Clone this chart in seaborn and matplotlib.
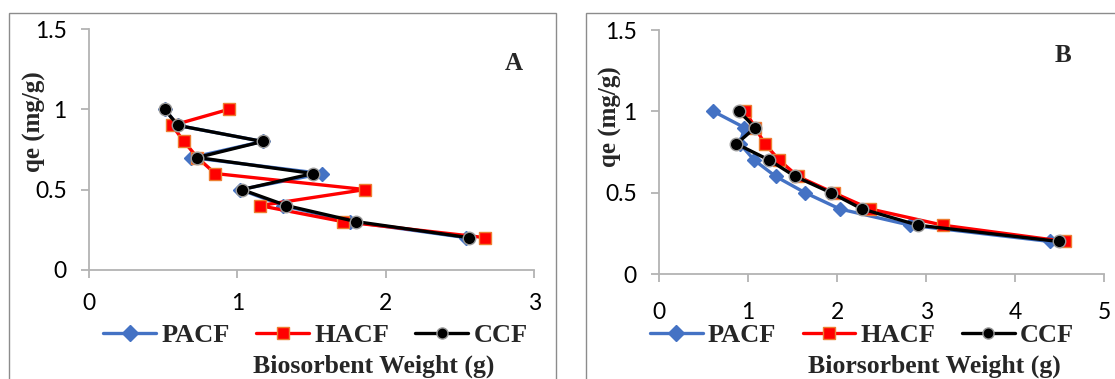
import matplotlib
matplotlib.use("Agg")
import matplotlib.pyplot as plt
from matplotlib.lines import Line2D
from matplotlib.patches import Rectangle
import seaborn as sns
import pandas as pd

# ---------------- data ----------------
qe = [1.0, 0.9, 0.8, 0.7, 0.6, 0.5, 0.4, 0.3, 0.2]

# Panel A
a_pacf = [0.51, 0.60, 1.17, 0.69, 1.57, 1.02, 1.31, 1.76, 2.54]
a_hacf = [0.94, 0.56, 0.64, 0.73, 0.85, 1.86, 1.15, 1.71, 2.67]
a_ccf = [0.51, 0.60, 1.17, 0.73, 1.51, 1.03, 1.33, 1.80, 2.56]

# Panel B
b_pacf = [0.61, 0.96, 0.91, 1.07, 1.31, 1.64, 2.03, 2.82, 4.39]
b_hacf = [0.97, 1.08, 1.19, 1.35, 1.56, 1.96, 2.37, 3.19, 4.56]
b_ccf = [0.90, 1.08, 0.87, 1.24, 1.53, 1.93, 2.28, 2.91, 4.49]

series_names = ["PACF", "HACF", "CCF"]
a_ticks_x = [0, 1, 2, 3]
b_ticks_x = [0, 1, 2, 3, 4, 5]
y_ticks = [0, 0.5, 1, 1.5]
y_ticklabels = ["0", "0.5", "1", "1.5"]

# ---------------- styling ----------------
styles = {
    "PACF": dict(color="#4472C4", marker="D", mec="#4472C4", ms=7.5),
    "HACF": dict(color="#FF0000", marker="s", mec="#ED7D31", ms=9),
    "CCF": dict(color="#000000", marker="o", mec="#9a9a9a", ms=9),
}
SERIF = ["Liberation Serif", "DejaVu Serif"]
SANS = ["Lato", "DejaVu Sans"]
AXIS_GREY = "#b3b3b3"

sns.set_theme(style="white")
plt.rcParams["font.family"] = SANS

fig = plt.figure(figsize=(11.15, 3.79), dpi=100)
fig.patch.set_facecolor("white")

# outer chart frames
fig.add_artist(Rectangle((0.0081, -0.2), 0.4906, 1.1665, transform=fig.transFigure,
                         fill=False, edgecolor="#8c8c8c", lw=1.0))
fig.add_artist(Rectangle((0.5253, -0.2), 0.6, 1.1665, transform=fig.transFigure,
                         fill=False, edgecolor="#8c8c8c", lw=1.0))

axA = fig.add_axes([0.0798, 0.2884, 0.3994, 0.6343])
axB = fig.add_axes([0.5910, 0.2770, 0.3994, 0.6438])


def draw(ax, xs_list, xmax, xticks, letter, letter_xy, xpad):
    for name, xs in zip(series_names, xs_list):
        st = styles[name]
        df = pd.DataFrame({"w": xs, "qe": qe})
        sns.lineplot(data=df, x="w", y="qe", sort=False, estimator=None, ax=ax,
                     color=st["color"], marker=st["marker"], markersize=st["ms"],
                     markeredgecolor=st["mec"], markeredgewidth=1.0,
                     linewidth=2.4, label=name, legend=False)
    ax.set_xlim(0, xmax)
    ax.set_ylim(0, 1.5)
    ax.set_xticks(xticks)
    ax.set_xticklabels([str(t) for t in xticks])
    ax.set_yticks(y_ticks)
    ax.set_yticklabels(y_ticklabels)
    ax.set_xlabel("")
    ax.set_ylabel("")
    for s in ["top", "right"]:
        ax.spines[s].set_visible(False)
    for s in ["left", "bottom"]:
        ax.spines[s].set_color(AXIS_GREY)
        ax.spines[s].set_linewidth(1.3)
    ax.tick_params(axis="both", which="major", direction="out", length=6,
                   width=1.3, color=AXIS_GREY, labelsize=16.5, labelcolor="black")
    ax.tick_params(axis="x", pad=xpad, bottom=True)
    ax.tick_params(axis="y", pad=10, left=True)
    for lab in ax.get_xticklabels() + ax.get_yticklabels():
        lab.set_family(SANS)
    ax.patch.set_alpha(0)
    fig.text(letter_xy[0], letter_xy[1], letter, family=SERIF, fontweight="bold",
             fontsize=18, ha="center", va="center")


draw(axA, [a_pacf, a_hacf, a_ccf], 3, a_ticks_x, "A", (514 / 1115, 1 - 64 / 379), 11)
draw(axB, [b_pacf, b_hacf, b_ccf], 5, b_ticks_x, "B", (1063 / 1115, 1 - 55 / 379), 14)

# y labels
fig.text(34 / 1115, 1 - 122 / 379, "qe (mg/g)", rotation=90, family=SERIF,
         fontweight="bold", fontsize=18, ha="center", va="center")
fig.text(610 / 1115, 1 - 117 / 379, "qe (mg/g)", rotation=90, family=SERIF,
         fontweight="bold", fontsize=18, ha="center", va="center")

# x labels
fig.text(373.4 / 1115, 1 - 373 / 379, "Biosorbent Weight (g)", family=SERIF,
         fontweight="bold", fontsize=18.5, ha="center", va="baseline")
fig.text(934.6 / 1115, 1 - 373 / 379, "Biorsorbent Weight (g)", family=SERIF,
         fontweight="bold", fontsize=18.5, ha="center", va="baseline")

# legends
handles = [Line2D([0], [0], color=styles[n]["color"], marker=styles[n]["marker"],
                  markersize=8, markeredgecolor=styles[n]["mec"], lw=2.4)
           for n in series_names]
for cx in (315.5 / 1115, 862 / 1115):
    fig.legend(handles, series_names, loc="center", bbox_to_anchor=(cx, 1 - 335 / 379),
               ncol=3, frameon=False, handlelength=2.0, handletextpad=0.2,
               columnspacing=1.0, borderpad=0, borderaxespad=0,
               prop=dict(family=SERIF, weight="bold", size=19))

fig.savefig("out.png", dpi=100, facecolor="white")
